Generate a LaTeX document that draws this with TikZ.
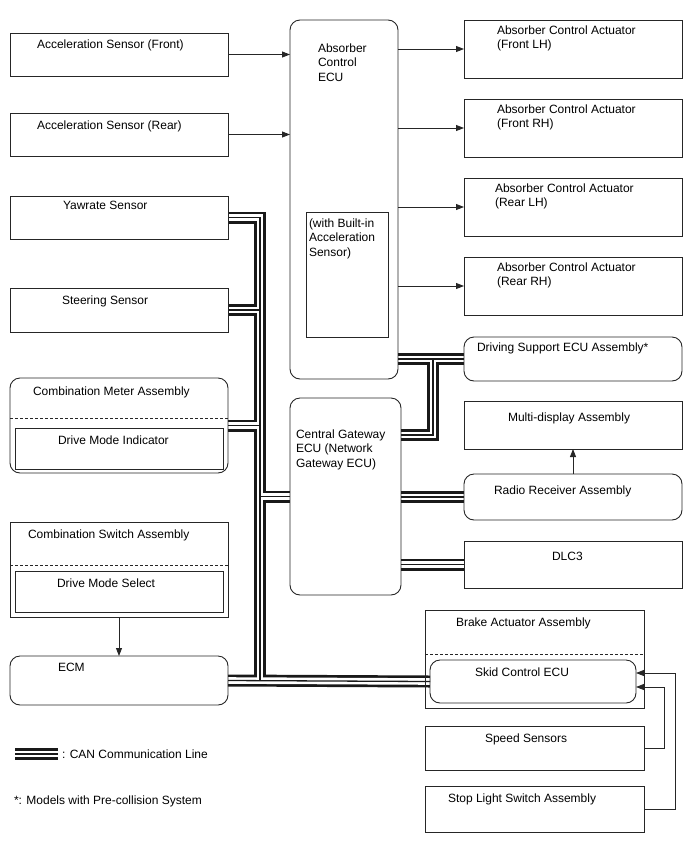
\documentclass[tikz,border=0pt]{standalone}
\usepackage{fontspec}
\setmainfont{Liberation Sans}
\usetikzlibrary{arrows.meta}
\pgfdeclarelayer{bg}
\pgfsetlayers{bg,main}
\newcommand\mycanpaths[1]{%
  \draw[#1] (yaw.east) -| (tr |- ecm.east);
  \draw[#1] (steer.east) -- (steer.east -| tr);
  \draw[#1] (cmeter.east) -- (cmeter.east -| tr);
  \draw[#1] (tr |- gw.west) -- (gw.west);
  \draw[#1] (ecm.east) -- (skid.west);
  \draw[#1] (abs.east |- drv.west) -- (drv.west);
  \draw[#1] (br |- drv.west) |- ([yshift=-37pt]gw.north east);
  \draw[#1] (gw.east |- radio.west) -- (radio.west);
  \draw[#1] (gw.east |- dlc.west) -- (dlc.west);
  \draw[#1] (lgA) -- (lgB);
}
\begin{document}
\begin{tikzpicture}[x=1pt,y=-1pt,
  box/.style={draw=black!85, line width=0.9pt, anchor=north west, inner sep=0pt, outer sep=0pt},
  rbox/.style={box, rounded corners=10pt},
  lbl/.style={anchor=north west, inner sep=0pt, outer sep=0pt, align=left, font=\fontsize{12}{14.5}\selectfont},
  arr/.style={draw=black!85, line width=0.9pt, -{Triangle[length=8pt,width=6pt]}},
  sep/.style={draw=black!85, line width=0.9pt, dash pattern=on 3pt off 2pt},
  canA/.style={line width=12pt, black!90, line join=miter},
  canB/.style={line width=6.6pt, white, line join=miter},
  canC/.style={line width=1.3pt, black!90, line join=miter}]

\useasboundingbox (0,0) rectangle (688,852);

% left column
\node[box, minimum width=218pt, minimum height=43pt] (accf) at (10,33) {};
\node[box, minimum width=218pt, minimum height=43pt] (accr) at (10,113) {};
\node[box, minimum width=218pt, minimum height=43pt] (yaw) at (10,196) {};
\node[box, minimum width=218pt, minimum height=44pt] (steer) at (10,288) {};
\node[rbox, minimum width=218pt, minimum height=95pt] (cmeter) at (10,378) {};
\node[box, minimum width=208pt, minimum height=41pt] (dmi) at (15,428) {};
\node[box, minimum width=218pt, minimum height=95pt] (cswitch) at (10,522) {};
\node[box, minimum width=208pt, minimum height=41pt] (dms) at (15,571) {};
\node[rbox, minimum width=218pt, minimum height=49pt] (ecm) at (10,656) {};

% center
\node[rbox, minimum width=108pt, minimum height=359pt] (abs) at (290,20) {};
\node[box, minimum width=82pt, minimum height=125pt] (absin) at (306,212) {};
\node[rbox, minimum width=111pt, minimum height=197pt] (gw) at (290,398) {};

% right column
\node[box, minimum width=218pt, minimum height=58pt] (act1) at (464,20) {};
\node[box, minimum width=218pt, minimum height=58pt] (act2) at (464,99) {};
\node[box, minimum width=218pt, minimum height=58pt] (act3) at (464,178) {};
\node[box, minimum width=218pt, minimum height=58pt] (act4) at (464,257) {};
\node[rbox, minimum width=218pt, minimum height=44pt] (drv) at (464,337) {};
\node[box, minimum width=218pt, minimum height=48pt] (multi) at (464,401) {};
\node[rbox, minimum width=218pt, minimum height=46pt] (radio) at (464,474) {};
\node[box, minimum width=218pt, minimum height=47pt] (dlc) at (464,541) {};
\node[box, minimum width=219pt, minimum height=98pt] (brake) at (425,610) {};
\node[rbox, minimum width=206pt, minimum height=43pt] (skid) at (430,660) {};
\node[box, minimum width=219pt, minimum height=44pt] (speed) at (425,726) {};
\node[box, minimum width=219pt, minimum height=46pt] (stop) at (425,786) {};

% dashed separators
\draw[sep] ([yshift=-40pt]cmeter.north west) -- ([yshift=-40pt]cmeter.north east);
\draw[sep] ([yshift=-43pt]cswitch.north west) -- ([yshift=-43pt]cswitch.north east);
\draw[sep] ([yshift=-44pt]brake.north west) -- ([yshift=-44pt]brake.north east);

% labels
\node[lbl] (taccf) at (37,39.5) {Acceleration Sensor (Front)};
\node[lbl] (taccr) at (37,120.5) {Acceleration Sensor (Rear)};
\node[lbl] (tyaw) at (63,201.5) {Yawrate Sensor};
\node[lbl] (tsteer) at (62,295.5) {Steering Sensor};
\node[lbl] (tcmeter) at (33,386.5) {Combination Meter Assembly};
\node[lbl] (tdmi) at (58,435.5) {Drive Mode Indicator};
\node[lbl] (tcswitch) at (28,529.5) {Combination Switch Assembly};
\node[lbl] (tdms) at (57,578.5) {Drive Mode Select};
\node[lbl] (tecm) at (58,663.5) {ECM};
\node[lbl] (tabs) at (318,43.5) {Absorber\\Control\\ECU};
\node[lbl] (tabsin) at (309,218.5) {(with Built-in\\Acceleration\\Sensor)};
\node[lbl] (tgw) at (296,429.5) {Central Gateway\\ECU (Network\\Gateway ECU)};
\node[lbl] (tact1) at (497,25.5) {Absorber Control Actuator\\(Front LH)};
\node[lbl] (tact2) at (497,104.5) {Absorber Control Actuator\\(Front RH)};
\node[lbl] (tact3) at (495,183.5) {Absorber Control Actuator\\(Rear LH)};
\node[lbl] (tact4) at (497,262.5) {Absorber Control Actuator\\(Rear RH)};
\node[lbl] (tdrv) at (477,342.5) {Driving Support ECU Assembly*};
\node[lbl] (tmulti) at (508,412.5) {Multi-display Assembly};
\node[lbl] (tradio) at (494,485.5) {Radio Receiver Assembly};
\node[lbl] (tdlc) at (552,552.5) {DLC3};
\node[lbl] (tbrake) at (456,617.5) {Brake Actuator Assembly};
\node[lbl] (tskid) at (475,667.5) {Skid Control ECU};
\node[lbl] (tspeed) at (485,733.5) {Speed Sensors};
\node[lbl] (tstop) at (448,793.5) {Stop Light Switch Assembly};
\node[lbl] (tlegend) at (62,749.5) {: CAN Communication Line};
\node[lbl] (tnote) at (14,795.5) {*: Models with Pre-collision System};

% arrows
\draw[arr] (accf.east) -- (accf.east -| abs.west);
\draw[arr] (accr.east) -- (accr.east -| abs.west);
\draw[arr] (abs.east |- act1.west) -- (act1.west);
\draw[arr] (abs.east |- act2.west) -- (act2.west);
\draw[arr] (abs.east |- act3.west) -- (act3.west);
\draw[arr] (abs.east |- act4.west) -- (act4.west);
\draw[arr] (cswitch.south) -- (ecm.north);
\draw[arr] (radio.north) -- (multi.south);
\draw[arr] (speed.east) -- ++(20,0) |- ([yshift=-27pt]skid.north east);
\draw[arr] (stop.east) -- ++(31,0) |- ([yshift=-13pt]skid.north east);

% CAN lines
\coordinate (tr) at (260,0);
\coordinate (br) at (433,0);
\coordinate (lgA) at (15,754);
\coordinate (lgB) at (58,754);
\begin{pgfonlayer}{bg}
\mycanpaths{canA}
\mycanpaths{canB}
\mycanpaths{canC}
\end{pgfonlayer}
\end{tikzpicture}
\end{document}
